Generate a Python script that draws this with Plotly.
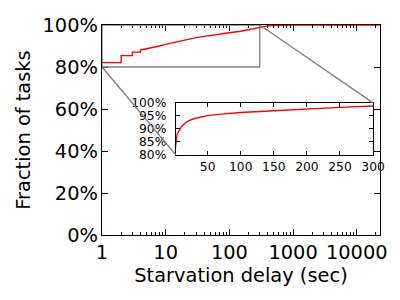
import plotly.graph_objects as go
import math

# Data
delay_sec = [1, 2, 3, 4, 5, 6, 8, 10, 15, 20, 30, 40, 50, 70, 100, 150, 200, 250, 300, 400, 600, 1000, 23000]
frac_pct = [82.1, 85.4, 87.1, 88.1, 88.6, 89.2, 90.0, 90.8, 92.1, 93.0, 94.0, 94.6, 95.1, 95.7, 96.3, 97.0, 97.7, 98.3, 98.8, 99.6, 99.9, 100, 100]
n_step = 4  # first points form visible steps

main_yticks = [0, 20, 40, 60, 80, 100]
main_xticks = [1, 10, 100, 1000, 10000]
main_xminor = [m * 10 ** d for d in range(0, 5) for m in range(2, 10)]
inset_xticks = [50, 100, 150, 200, 250, 300]
inset_yticks = [80, 85, 90, 95, 100]
zoom_x = [1, 300]
zoom_y = [80, 100]

FONT = "DejaVu Sans"
W, H = 400, 300
OFF = 8  # default page body margin
ML, MR, MT, MB = 102 - OFF, 20 + OFF, 25 - OFF, 65 + OFF
FS_MAIN = 19.4
FS_INSET = 12.3

main_xrange_log = [0, 4.365]
inset_xrange = [2, 300]
inset_dom_x = [0.266, 0.975]
inset_dom_y = [0.381, 0.629]

fig = go.Figure()
fig.add_trace(go.Scatter(x=delay_sec[:n_step], y=frac_pct[:n_step], mode="lines",
                         line=dict(color="#ff0000", width=1.4, shape="hv"),
                         xaxis="x", yaxis="y", showlegend=False, hoverinfo="skip"))
fig.add_trace(go.Scatter(x=delay_sec[n_step - 1:], y=frac_pct[n_step - 1:], mode="lines",
                         line=dict(color="#ff0000", width=1.4),
                         xaxis="x", yaxis="y", showlegend=False, hoverinfo="skip"))
fig.add_trace(go.Scatter(x=delay_sec, y=frac_pct, mode="lines", line=dict(color="#ff0000", width=1.4),
                         xaxis="x2", yaxis="y2", showlegend=False, hoverinfo="skip"))

def px_log(v):
    return (math.log10(v) - main_xrange_log[0]) / (main_xrange_log[1] - main_xrange_log[0])

gray = dict(color="#808080", width=1.3)
shapes = [
    dict(type="rect", xref="x", yref="y", x0=zoom_x[0], x1=zoom_x[1], y0=zoom_y[0], y1=zoom_y[1], line=gray, layer="above"),
    dict(type="line", xref="paper", yref="paper", x0=px_log(zoom_x[0]), y0=zoom_y[0] / 100,
         x1=inset_dom_x[0], y1=inset_dom_y[0], line=gray, layer="above"),
    dict(type="line", xref="paper", yref="paper", x0=px_log(zoom_x[1]), y0=zoom_y[1] / 100,
         x1=inset_dom_x[1], y1=inset_dom_y[1], line=gray, layer="above"),
]

axis_common = dict(showgrid=False, zeroline=False, showline=True, linecolor="black", linewidth=1.3,
                   ticks="inside", tickcolor="black", mirror="ticks", automargin=False)

def pct(vals):
    return [f"{v}%" for v in vals]

fig.update_layout(
    width=W, height=H, margin=dict(l=ML, r=MR, t=MT, b=MB, autoexpand=False),
    paper_bgcolor="white", plot_bgcolor="white",
    font=dict(family=FONT, color="black", size=FS_MAIN),
    shapes=shapes,
    xaxis=dict(axis_common, type="log", range=main_xrange_log, tickvals=main_xticks,
               ticktext=[str(v) for v in main_xticks], ticklen=5.5, tickwidth=1,
               minor=dict(ticks="inside", ticklen=3, tickcolor="black", tickwidth=1, showgrid=False,
                          tickvals=main_xminor),
               title=dict(text="Starvation delay (sec)", font=dict(size=FS_MAIN), standoff=4),
               tickfont=dict(size=FS_MAIN), ticklabelstandoff=0),
    yaxis=dict(axis_common, range=[0, 100], tickvals=main_yticks, ticktext=pct(main_yticks),
               ticklen=5.5, tickwidth=1, ticklabelstandoff=-1,
               title=dict(text="Fraction of tasks", font=dict(size=FS_MAIN), standoff=6),
               tickfont=dict(size=FS_MAIN)),
    xaxis2=dict(axis_common, domain=inset_dom_x, anchor="y2", range=inset_xrange, tickvals=inset_xticks,
                ticktext=[str(v) for v in inset_xticks], ticklabelstandoff=0,
                ticklen=4, tickwidth=1, tickfont=dict(size=FS_INSET)),
    yaxis2=dict(axis_common, domain=inset_dom_y, anchor="x2", range=[80, 100], tickvals=inset_yticks,
                ticktext=pct(inset_yticks), ticklen=4, tickwidth=1, ticklabelstandoff=6,
                tickfont=dict(size=FS_INSET)),
)

fig.write_html("out.html")
